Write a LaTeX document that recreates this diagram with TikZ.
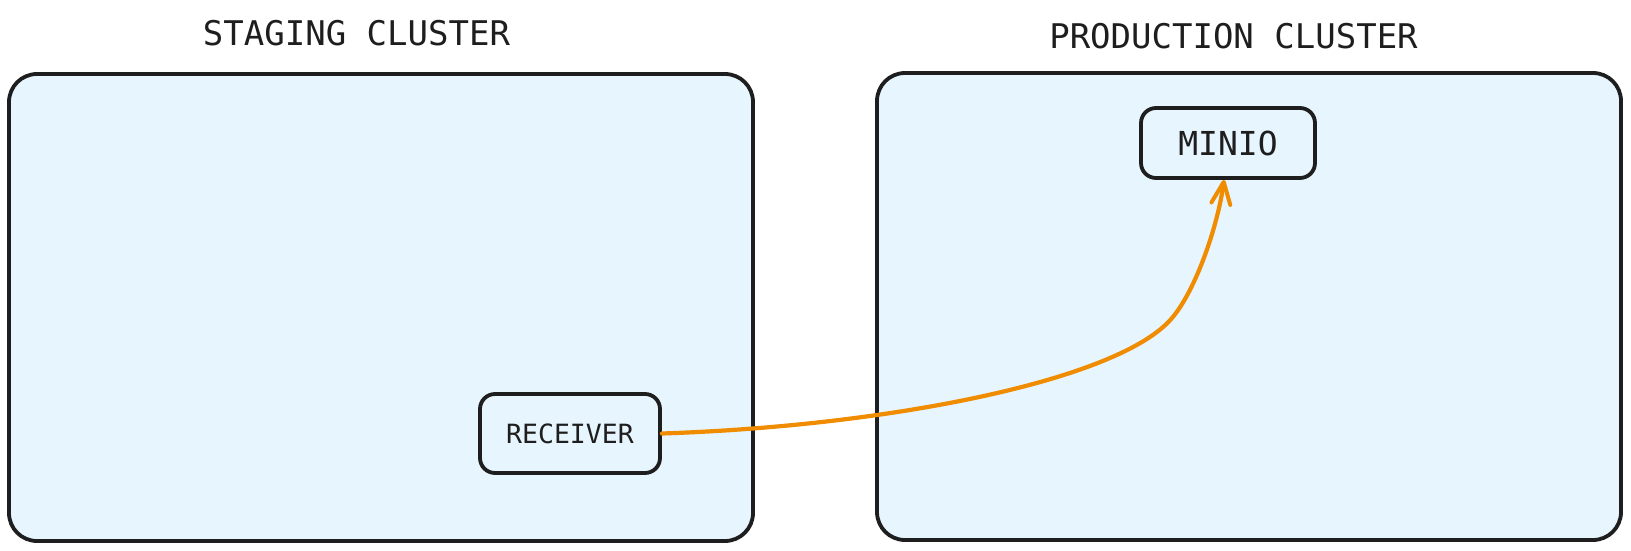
\documentclass[tikz,border=0pt]{standalone}
\usepackage{fontspec}
\newfontfamily\monofam{DejaVu Sans Mono}
\usetikzlibrary{arrows.meta}
\definecolor{ink}{HTML}{1E1E1E}
\definecolor{paleblue}{HTML}{E7F5FF}
\definecolor{arroworange}{HTML}{F08C00}
\tikzset{
  cluster/.style={draw=ink, fill=paleblue, line width=3.8pt, rounded corners=28pt, inner sep=0pt},
  svc/.style={draw=ink, fill=paleblue, line width=3.8pt, rounded corners=15pt, inner sep=0pt, text=ink},
  title/.style={text=ink, inner sep=0pt, font=\monofam\fontsize{34}{40}\selectfont},
  flow/.style={draw=arroworange, line width=4.2pt, line cap=round, -{Straight Barb[length=22pt,width=19pt,line width=4pt,round]}}
}
\begin{document}
\begin{tikzpicture}[x=1pt,y=-1pt]
\useasboundingbox (0,0) rectangle (1631,551);
\node[cluster, minimum width=744pt, minimum height=467pt] (staging) at (381,307.5) {};
\node[cluster, minimum width=744pt, minimum height=467pt] (production) at (1249,306.5) {};
\node[title] (stagingtitle) at (356.5,33.5) {STAGING CLUSTER};
\node[title] (productiontitle) at (1233.5,36) {PRODUCTION CLUSTER};
\node[svc, minimum width=180pt, minimum height=79pt, font=\monofam\fontsize{26.5}{30}\selectfont] (receiver) at (570,433.5) {RECEIVER};
\node[svc, minimum width=174pt, minimum height=70pt, font=\monofam\fontsize{33}{38}\selectfont] (minio) at (1228,143) {MINIO};
\coordinate (bend) at (1172,318);
\draw[flow] (receiver.east) .. controls (890,426) and (1120,380) .. (bend)
  .. controls (1196,290) and (1218,225) .. ([xshift=-4pt]minio.south);
\end{tikzpicture}
\end{document}
